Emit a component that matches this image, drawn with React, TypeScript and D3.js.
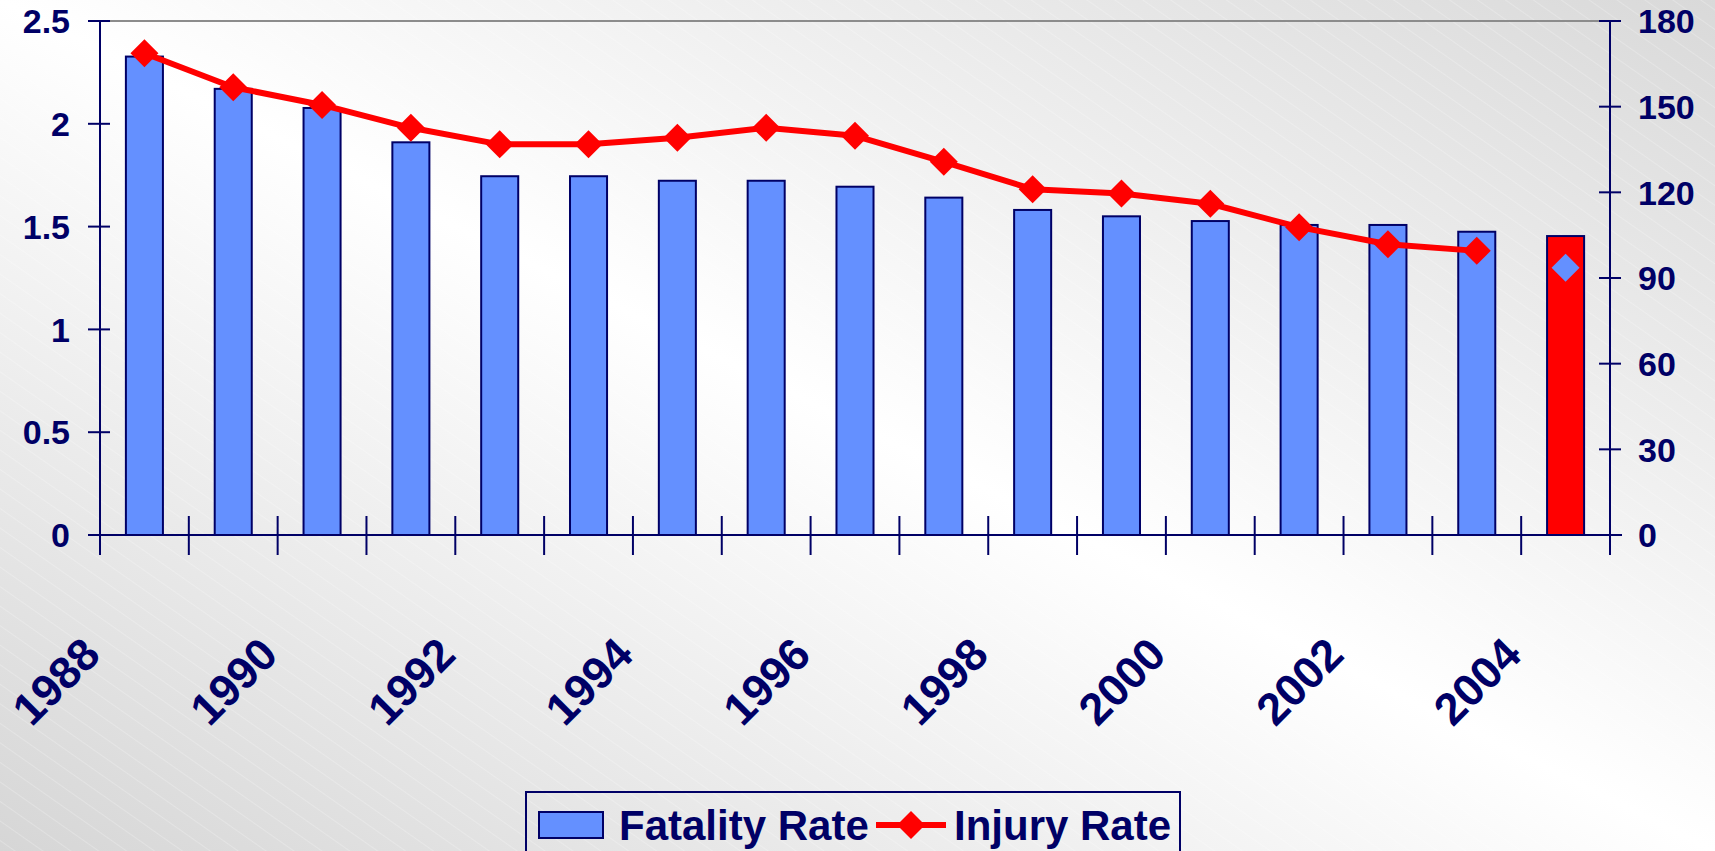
import React, { useEffect, useRef } from 'react';
import * as d3 from 'd3';

// valores
const years = ['1988', '1989', '1990', '1991', '1992', '1993', '1994', '1995', '1996',
  '1997', '1998', '1999', '2000', '2001', '2002', '2003', '2004'];
const fatalityRate = [2.327, 2.17, 2.077, 1.91, 1.745, 1.745, 1.723, 1.723, 1.694,
  1.641, 1.581, 1.55, 1.527, 1.508, 1.508, 1.475, 1.454];
const injuryRate = [168.7, 156.8, 150.6, 142.6, 136.8, 136.8, 139.1, 142.6, 139.8,
  130.7, 121.1, 119.6, 116.0, 107.8, 101.8, 99.5, 93.6];
const leftTicks = [0, 0.5, 1, 1.5, 2, 2.5];
const rightTicks = [0, 30, 60, 90, 120, 150, 180];
const labelYears = ['1988', '1990', '1992', '1994', '1996', '1998', '2000', '2002', '2004'];
const legendLabels = ['Fatality Rate', 'Injury Rate'];

const NAVY = '#000066';
const BLUE = '#6490FF';
const RED = '#FF0000';

const App = () => {
  const svgRef = useRef<SVGSVGElement | null>(null);
  const width = 1715;
  const height = 851;

  useEffect(() => {
    if (!svgRef.current) return;
    document.body.style.margin = '0';
    const svg = d3.select(svgRef.current);
    svg.selectAll('*').remove();

    const left = 100, right = 1610, top = 21, bottom = 535;

    // fundo com degradê diagonal
    const defs = svg.append('defs');
    const grad = defs.append('linearGradient')
      .attr('id', 'bg').attr('x1', '100%').attr('y1', '0%').attr('x2', '0%').attr('y2', '100%');
    grad.append('stop').attr('offset', '0%').attr('stop-color', '#d9d9d9');
    grad.append('stop').attr('offset', '50%').attr('stop-color', '#ffffff');
    grad.append('stop').attr('offset', '100%').attr('stop-color', '#d6d6d6');
    const pat = defs.append('pattern')
      .attr('id', 'stripes').attr('width', 16).attr('height', 16)
      .attr('patternUnits', 'userSpaceOnUse').attr('patternTransform', 'rotate(35)');
    pat.append('line').attr('x1', 0).attr('y1', 0).attr('x2', 16).attr('y2', 0)
      .attr('stroke', '#ffffff').attr('stroke-width', 1).attr('opacity', 0.45);

    svg.append('rect').attr('width', width).attr('height', height).attr('fill', 'url(#bg)');
    svg.append('rect').attr('width', width).attr('height', height).attr('fill', 'url(#stripes)');

    const x = d3.scaleBand<string>()
      .domain(years)
      .range([left, right])
      .paddingInner(0.583)
      .paddingOuter(0.2915);
    const step = x.step();
    const yL = d3.scaleLinear().domain([0, 2.5]).range([bottom, top]);
    const yR = d3.scaleLinear().domain([0, 180]).range([bottom, top]);

    // linha de grade superior
    svg.append('line')
      .attr('x1', left + 10).attr('x2', right - 11)
      .attr('y1', yL(2.5)).attr('y2', yL(2.5))
      .attr('stroke', '#8c8c8c').attr('stroke-width', 2);

    // barras
    svg.append('g').selectAll('rect')
      .data(fatalityRate)
      .enter()
      .append('rect')
      .attr('x', (d, i) => x(years[i])!)
      .attr('y', d => yL(d))
      .attr('width', x.bandwidth())
      .attr('height', d => bottom - yL(d))
      .attr('fill', (d, i) => i === years.length - 1 ? RED : BLUE)
      .attr('stroke', NAVY)
      .attr('stroke-width', 2);

    // eixos
    const ax = svg.append('g').attr('stroke', NAVY).attr('stroke-width', 2);
    ax.append('line').attr('x1', left).attr('x2', left).attr('y1', top).attr('y2', bottom);
    ax.append('line').attr('x1', right).attr('x2', right).attr('y1', top).attr('y2', bottom + 20);
    ax.append('line').attr('x1', left - 12).attr('x2', right + 12).attr('y1', bottom).attr('y2', bottom);
    leftTicks.forEach(t => {
      ax.append('line').attr('x1', left - 12).attr('x2', left + 10).attr('y1', yL(t)).attr('y2', yL(t));
    });
    rightTicks.forEach(t => {
      ax.append('line').attr('x1', right - 11).attr('x2', right + 11).attr('y1', yR(t)).attr('y2', yR(t));
    });
    d3.range(years.length + 1).forEach(i => {
      const xx = left + step * i;
      ax.append('line').attr('x1', xx).attr('x2', xx).attr('y1', bottom - 19).attr('y2', bottom + 20);
    });

    const fontFamily = '"Liberation Sans", Arial, sans-serif';
    svg.append('g').selectAll('text')
      .data(leftTicks)
      .enter()
      .append('text')
      .attr('x', 70)
      .attr('y', d => yL(d))
      .attr('dy', '0.36em')
      .attr('text-anchor', 'end')
      .style('font-family', fontFamily)
      .style('font-size', '34px')
      .style('font-weight', 'bold')
      .style('fill', NAVY)
      .text(d => d3.format('~g')(d));

    svg.append('g').selectAll('text')
      .data(rightTicks)
      .enter()
      .append('text')
      .attr('x', 1638)
      .attr('y', d => yR(d))
      .attr('dy', '0.36em')
      .style('font-family', fontFamily)
      .style('font-size', '34px')
      .style('font-weight', 'bold')
      .style('fill', NAVY)
      .text(d => d);

    // rótulos dos anos, girados
    svg.append('g').selectAll('text')
      .data(labelYears)
      .enter()
      .append('text')
      .attr('transform', d => `translate(${x(d)! + x.bandwidth() / 2 - 42},657) rotate(-45)`)
      .attr('text-anchor', 'end')
      .style('font-family', fontFamily)
      .style('font-size', '45px')
      .style('font-weight', 'bold')
      .style('fill', NAVY)
      .text(d => d);

    // linha de lesões (o último ponto fica solto)
    const cx = (i: number) => x(years[i])! + x.bandwidth() / 2;
    const lineData = injuryRate.slice(0, -1);
    const line = d3.line<number>()
      .x((d, i) => cx(i))
      .y(d => yR(d));
    svg.append('path')
      .datum(lineData)
      .attr('d', line)
      .attr('fill', 'none')
      .attr('stroke', RED)
      .attr('stroke-width', 6)
      .attr('stroke-linejoin', 'round');

    const diamond = (r: number) => `M0,${-r}L${r},0L0,${r}L${-r},0Z`;
    svg.append('g').selectAll('path')
      .data(injuryRate)
      .enter()
      .append('path')
      .attr('transform', (d, i) => `translate(${cx(i)},${yR(d)})`)
      .attr('d', diamond(14))
      .attr('fill', (d, i) => i === injuryRate.length - 1 ? BLUE : RED);

    // legenda
    const lg = svg.append('g');
    lg.append('rect')
      .attr('x', 526).attr('y', 792).attr('width', 654).attr('height', 80)
      .attr('fill', 'none').attr('stroke', NAVY).attr('stroke-width', 2);
    lg.append('rect')
      .attr('x', 539).attr('y', 812).attr('width', 64).attr('height', 26)
      .attr('fill', BLUE).attr('stroke', NAVY).attr('stroke-width', 2);
    lg.append('line')
      .attr('x1', 876).attr('x2', 946).attr('y1', 825).attr('y2', 825)
      .attr('stroke', RED).attr('stroke-width', 6);
    lg.append('path')
      .attr('transform', 'translate(911,825)')
      .attr('d', diamond(14))
      .attr('fill', RED);
    lg.selectAll('text.lbl')
      .data(legendLabels)
      .enter()
      .append('text')
      .attr('class', 'lbl')
      .attr('x', (d, i) => i === 0 ? 619 : 954)
      .attr('y', 840)
      .style('font-family', fontFamily)
      .style('font-size', '42px')
      .style('font-weight', 'bold')
      .style('fill', NAVY)
      .text(d => d);
  }, []);

  return (
    <svg ref={svgRef} width={width} height={height}
      style={{ position: 'absolute', left: 0, top: 0, display: 'block' }} />
  );
};

export default App;
